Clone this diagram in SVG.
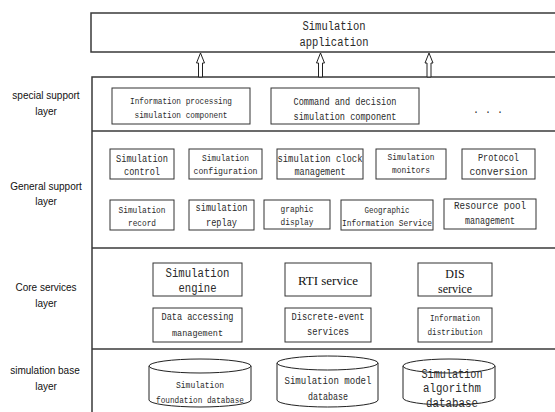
<svg xmlns="http://www.w3.org/2000/svg" width="555" height="412" viewBox="0 0 555 412">
<style>
.frame{fill:none;stroke:#3a3a3a;stroke-width:1.5}
.box{fill:#fff;stroke:#333;stroke-width:1}
.cyl{fill:#fff;stroke:#222;stroke-width:1}
.t{font-family:"Liberation Mono",monospace;fill:#2a2a2a;text-anchor:middle}
.s{font-family:"Liberation Serif",serif;fill:#111;text-anchor:middle}
.lab{font-family:"Liberation Sans",Arial,sans-serif;font-size:10px;fill:#111;text-anchor:middle}
.arrow{fill:#fff;stroke:#222;stroke-width:1}
</style>
<rect width="555" height="412" fill="#fff"/>
<g id="frames">
<path class="frame" d="M555,13 H91 V52 H555"/>
<path class="frame" d="M555,77 H92 V412"/>
<path class="frame" d="M92,131 H555"/>
<path class="frame" d="M92,248 H555"/>
<path class="frame" d="M92,349 H555"/>
</g>
<g id="layer-labels">
<text class="lab" x="46" y="99">special support</text>
<text class="lab" x="46" y="115">layer</text>
<text class="lab" x="46" y="190">General support</text>
<text class="lab" x="46" y="205">layer</text>
<text class="lab" x="46" y="291">Core services</text>
<text class="lab" x="46" y="307">layer</text>
<text class="lab" x="45" y="374">simulation base</text>
<text class="lab" x="46" y="390">layer</text>
</g>
<g id="app">
<text class="t" x="334" y="30" font-size="12.5" textLength="63" lengthAdjust="spacingAndGlyphs">Simulation</text>
<text class="t" x="334" y="46" font-size="12.5" textLength="69" lengthAdjust="spacingAndGlyphs">application</text>
</g>
<g id="connectors">
<path class="arrow" d="M198.5,77 V63 H196.5 L200.5,53 L204.5,63 H202.5 V77 Z"/>
<path class="arrow" d="M318.5,77 V63 H316.5 L320.5,53 L324.5,63 H322.5 V77 Z"/>
<path class="arrow" d="M427,77 V63 H425 L429,53 L433,63 H431 V77 Z"/>
</g>
<g id="info-processing">
<rect class="box" x="112" y="88" width="138" height="36"/>
<text class="t" x="181" y="104" font-size="9.5" textLength="102" lengthAdjust="spacingAndGlyphs">Information processing</text>
<text class="t" x="181" y="118" font-size="9.5" textLength="93" lengthAdjust="spacingAndGlyphs">simulation component</text>
</g>
<g id="command-decision">
<rect class="box" x="271" y="88" width="148" height="36"/>
<text class="t" x="345" y="105" font-size="10" textLength="103" lengthAdjust="spacingAndGlyphs">Command and decision</text>
<text class="t" x="345" y="120" font-size="10" textLength="103" lengthAdjust="spacingAndGlyphs">simulation component</text>
</g>
<g id="ellipsis">
<text class="t" x="488" y="113" font-size="10">. . .</text>
</g>
<g id="sim-control">
<rect class="box" x="110" y="149" width="64" height="30"/>
<text class="t" x="142" y="162" font-size="10.5" textLength="52" lengthAdjust="spacingAndGlyphs">Simulation</text>
<text class="t" x="142" y="175" font-size="10.5" textLength="36" lengthAdjust="spacingAndGlyphs">control</text>
</g>
<g id="sim-configuration">
<rect class="box" x="189" y="149" width="73" height="30"/>
<text class="t" x="225.5" y="161" font-size="9.5" textLength="47" lengthAdjust="spacingAndGlyphs">Simulation</text>
<text class="t" x="225.5" y="174" font-size="9.5" textLength="64" lengthAdjust="spacingAndGlyphs">configuration</text>
</g>
<g id="sim-clock">
<rect class="box" x="277" y="149" width="86" height="30"/>
<text class="t" x="320" y="162" font-size="10.5" textLength="85" lengthAdjust="spacingAndGlyphs">simulation clock</text>
<text class="t" x="320" y="175" font-size="10.5" textLength="51" lengthAdjust="spacingAndGlyphs">management</text>
</g>
<g id="sim-monitors">
<rect class="box" x="376" y="149" width="70" height="30"/>
<text class="t" x="411" y="160" font-size="9.5" textLength="47" lengthAdjust="spacingAndGlyphs">Simulation</text>
<text class="t" x="411" y="173" font-size="9.5" textLength="38" lengthAdjust="spacingAndGlyphs">monitors</text>
</g>
<g id="protocol-conversion">
<rect class="box" x="462" y="149" width="73" height="30"/>
<text class="t" x="498.5" y="161" font-size="10.5" textLength="41" lengthAdjust="spacingAndGlyphs">Protocol</text>
<text class="t" x="498.5" y="175" font-size="10.5" textLength="58" lengthAdjust="spacingAndGlyphs">conversion</text>
</g>
<g id="sim-record">
<rect class="box" x="110" y="200" width="64" height="30"/>
<text class="t" x="142" y="213" font-size="9.5" textLength="47" lengthAdjust="spacingAndGlyphs">Simulation</text>
<text class="t" x="142" y="226" font-size="9.5" textLength="28" lengthAdjust="spacingAndGlyphs">record</text>
</g>
<g id="sim-replay">
<rect class="box" x="189" y="200" width="65" height="30"/>
<text class="t" x="221.5" y="211" font-size="10.5" textLength="52" lengthAdjust="spacingAndGlyphs">simulation</text>
<text class="t" x="221.5" y="226" font-size="10.5" textLength="31" lengthAdjust="spacingAndGlyphs">replay</text>
</g>
<g id="graphic-display">
<rect class="box" x="264" y="200" width="66" height="29"/>
<text class="t" x="297" y="212" font-size="9.5" textLength="33" lengthAdjust="spacingAndGlyphs">graphic</text>
<text class="t" x="297" y="225" font-size="9.5" textLength="33" lengthAdjust="spacingAndGlyphs">display</text>
</g>
<g id="gis">
<rect class="box" x="341" y="200" width="92" height="30"/>
<text class="t" x="387" y="213" font-size="9.5" textLength="45" lengthAdjust="spacingAndGlyphs">Geographic</text>
<text class="t" x="387" y="226" font-size="9.5" textLength="90" lengthAdjust="spacingAndGlyphs">Information Service</text>
</g>
<g id="resource-pool">
<rect class="box" x="444" y="199" width="92" height="30"/>
<text class="t" x="490" y="209" font-size="10.5" textLength="72" lengthAdjust="spacingAndGlyphs">Resource pool</text>
<text class="t" x="490" y="224" font-size="10.5" textLength="50" lengthAdjust="spacingAndGlyphs">management</text>
</g>
<g id="sim-engine">
<rect class="box" x="153" y="263" width="89" height="33"/>
<text class="t" x="197.5" y="277" font-size="12.5" textLength="64" lengthAdjust="spacingAndGlyphs">Simulation</text>
<text class="t" x="197.5" y="292" font-size="12.5" textLength="38" lengthAdjust="spacingAndGlyphs">engine</text>
</g>
<g id="rti-service">
<rect class="box" x="285" y="263" width="86" height="33"/>
<text class="s" x="328" y="285" font-size="13">RTI service</text>
</g>
<g id="dis-service">
<rect class="box" x="418" y="263" width="74" height="33"/>
<text class="s" x="455" y="278" font-size="12">DIS</text>
<text class="s" x="455" y="293" font-size="12">service</text>
</g>
<g id="data-accessing">
<rect class="box" x="153" y="308" width="89" height="34"/>
<text class="t" x="197.5" y="320" font-size="10.5" textLength="72" lengthAdjust="spacingAndGlyphs">Data accessing</text>
<text class="t" x="197.5" y="336" font-size="9.5" textLength="51" lengthAdjust="spacingAndGlyphs">management</text>
</g>
<g id="discrete-event">
<rect class="box" x="285" y="308" width="86" height="34"/>
<text class="t" x="328" y="320" font-size="10" textLength="73" lengthAdjust="spacingAndGlyphs">Discrete-event</text>
<text class="t" x="328" y="335" font-size="10" textLength="42" lengthAdjust="spacingAndGlyphs">services</text>
</g>
<g id="info-distribution">
<rect class="box" x="418" y="308" width="74" height="34"/>
<text class="t" x="455" y="321" font-size="9.5" textLength="50" lengthAdjust="spacingAndGlyphs">Information</text>
<text class="t" x="455" y="335" font-size="9.5" textLength="55" lengthAdjust="spacingAndGlyphs">distribution</text>
</g>
<g id="foundation-db">
<path class="cyl" d="M149,366 V400 A51,7 0 0 0 251,400 V366"/>
<ellipse class="cyl" cx="200" cy="366" rx="51" ry="7"/>
<text class="t" x="200" y="388" font-size="9.5" textLength="48" lengthAdjust="spacingAndGlyphs">Simulation</text>
<text class="t" x="200" y="403" font-size="9.5" textLength="88" lengthAdjust="spacingAndGlyphs">foundation database</text>
</g>
<g id="model-db">
<path class="cyl" d="M277,363 V400 A50.5,7 0 0 0 378,400 V363"/>
<ellipse class="cyl" cx="327.5" cy="363" rx="50.5" ry="7"/>
<text class="t" x="328" y="384" font-size="10.5" textLength="87" lengthAdjust="spacingAndGlyphs">Simulation model</text>
<text class="t" x="328" y="400" font-size="10.5" textLength="40" lengthAdjust="spacingAndGlyphs">database</text>
</g>
<g id="algorithm-db">
<path class="cyl" d="M403,366 V398 A46,7 0 0 0 495,398 V366"/>
<ellipse class="cyl" cx="449" cy="366" rx="46" ry="7"/>
<text class="t" x="452" y="378" font-size="12.5" textLength="61" lengthAdjust="spacingAndGlyphs">Simulation</text>
<text class="t" x="452" y="392" font-size="12.5" textLength="58" lengthAdjust="spacingAndGlyphs">algorithm</text>
<text class="t" x="452" y="407" font-size="12" textLength="52" lengthAdjust="spacingAndGlyphs">database</text>
</g>
</svg>
